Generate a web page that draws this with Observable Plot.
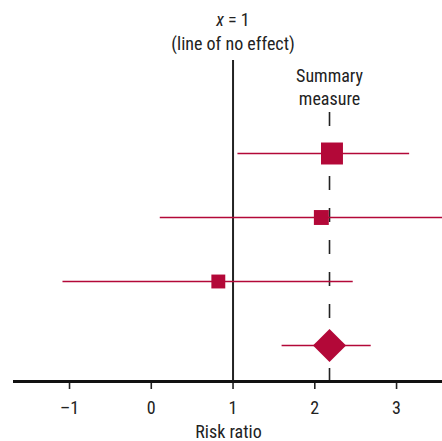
<!DOCTYPE html>
<html><head><meta charset="utf-8">
<script src="https://cdn.jsdelivr.net/npm/d3@7"></script>
<script src="https://cdn.jsdelivr.net/npm/@observablehq/plot@0.6"></script>
<style>
body{margin:0;background:#fff}
#chart svg [aria-label="x-axis tick"] path, #chart svg [aria-label="x-axis tick"] {stroke-width:1.6px}
#chart svg text {font-stretch: 75%;}
</style>
</head><body><div id="chart"></div>
<script>
const studies = ["Study 1", "Study 2", "Study 3", "Summary"];
const estimate = [2.21, 2.08, 0.82, 2.18];
const lower = [1.06, 0.11, -1.08, 1.60];
const upper = [3.16, 3.75, 2.47, 2.69];
const weight = [50, 23, 20, null];
const nullValue = 1;
const summaryValue = 2.18;
const xTicks = [-1, 0, 1, 2, 3];
const nullLabel = ["x = 1", "(line of no effect)"];
const summaryLabel = "Summary\nmeasure";
const xLabel = "Risk ratio";

const rows = studies.map((s, i) => ({study: s, order: i, est: estimate[i], lo: lower[i], hi: upper[i], w: weight[i]}));
const studyRows = rows.filter(d => d.w != null);
const summaryRows = rows.filter(d => d.w == null);

const red = "#b30838";
const font = "Roboto, 'Noto Sans', sans-serif";

const chart = Plot.plot({
  width: 442,
  height: 441,
  marginLeft: 14,
  marginRight: 0,
  marginTop: 60,
  marginBottom: 60,
  style: {fontFamily: font, fontSize: "18px", color: "#222", background: "#fff"},
  x: {domain: [-1.673, 3.562], ticks: xTicks, tickSize: 8, tickPadding: 12, tickFormat: d => d < 0 ? "\u2013" + Math.abs(d) : String(d),
      label: xLabel, labelAnchor: "center", labelArrow: "none", labelOffset: 56},
  y: {type: "linear", domain: [0, studies.length - 1], range: [153, 345], axis: null},
  r: {type: "sqrt", domain: [0, 50], range: [0, 12.4]},
  marks: [
    Plot.ruleX([summaryValue], {stroke: "#222", strokeWidth: 1.6, strokeDasharray: "14,18", insetTop: 52}),
    Plot.ruleX([nullValue], {stroke: "#222", strokeWidth: 2}),
    Plot.ruleY(rows, {x1: "lo", x2: "hi", y: "order", stroke: red, strokeWidth: 1.6, clip: true}),
    Plot.dot(studyRows, {x: "est", y: "order", r: "w", symbol: "square", fill: red}),
    Plot.dot(summaryRows, {x: "est", y: "order", r: 14.9, symbol: "diamond2", fill: red}),
    Plot.frame({anchor: "bottom", stroke: "#111", strokeWidth: 3}),
    Plot.text([nullLabel[0]], {x: () => nullValue, text: d => d, frameAnchor: "top", dy: -47, fontSize: 18, fill: "#222", className: "nulltitle"}),
    Plot.text([nullLabel[1]], {x: () => nullValue, text: d => d, frameAnchor: "top", dy: -23, fontSize: 18, fill: "#222"}),
    Plot.text([summaryLabel], {x: () => summaryValue, text: d => d, frameAnchor: "top", dy: 5, fontSize: 18, lineHeight: 1.28, fill: "#222"})
  ]
});
document.getElementById("chart").append(chart);

// italic x in "x = 1"
d3.select(chart).selectAll(".nulltitle text").each(function() {
  const t = this.textContent;
  const sel = d3.select(this);
  sel.text(null);
  sel.append("tspan").attr("font-style", "italic").text(t.slice(0, 1));
  sel.append("tspan").text(t.slice(1));
});
</script>
</body></html>
